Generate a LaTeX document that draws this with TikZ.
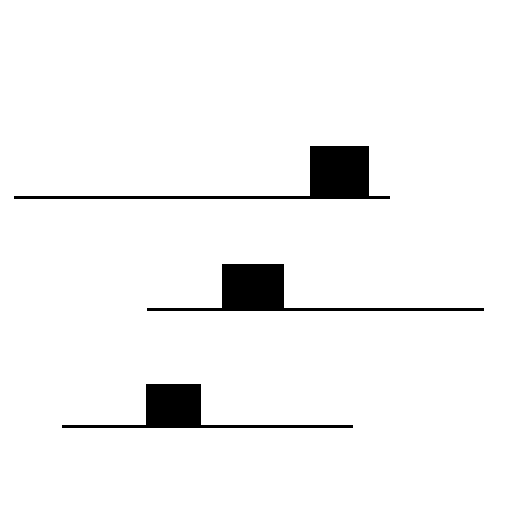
\documentclass[tikz,border=0pt]{standalone}
\usepackage{tikz}

\begin{document}
\begin{tikzpicture}[x=1pt,y=-1pt]
    \useasboundingbox (0,0) rectangle (512,512);
    \draw [line width=3pt] (14,197.5) -- (390,197.5);
    \fill (310,145.7) rectangle (369,197.5);
    \draw [line width=3pt] (147,309.5) -- (484,309.5);
    \fill (222,263.7) rectangle (284,309.5);
    \draw [line width=3pt] (62,426.5) -- (353,426.5);
    \fill (146,383.7) rectangle (201,426.5);
  \end{tikzpicture}
\end{document}
